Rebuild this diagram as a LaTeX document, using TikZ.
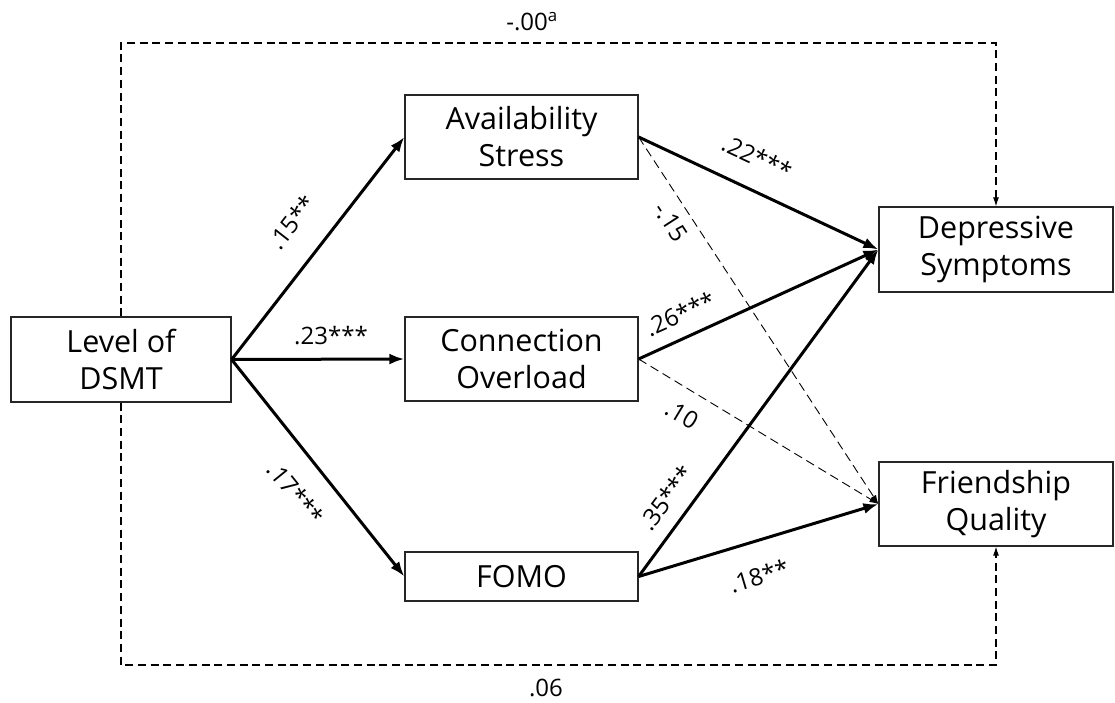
\documentclass[tikz,border=0pt]{standalone}
\usepackage{fontspec}
\setmainfont{Open Sans}
\usetikzlibrary{arrows.meta}
\begin{document}
\begin{tikzpicture}[x=1pt,y=-1pt,
  box/.style={draw=black!85,line width=1.2pt,fill=white,align=center,inner sep=0pt,
    font=\fontsize{30.5}{37}\selectfont},
  strong/.style={line width=3pt,-{Latex[length=15pt,width=11pt]}},
  weak/.style={line width=0.9pt,dash pattern=on 9pt off 5pt,-{Latex[length=9pt,width=6pt]}},
  direct/.style={line width=1.1pt,dash pattern=on 8pt off 4.7pt,-{Latex[length=9pt,width=6pt]}},
  coef/.style={font=\fontsize{24}{28}\selectfont,inner sep=0pt}]
\useasboundingbox (0,0) rectangle (1115,702);

% variables
\node[box,minimum width=220pt,minimum height=85pt] (lvl) at (121,359.5) {Level of\\DSMT};
\node[box,minimum width=233pt,minimum height=84pt] (avail) at (521.5,137) {Availability\\Stress};
\node[box,minimum width=233pt,minimum height=84pt] (conn) at (521.5,359) {Connection\\Overload};
\node[box,minimum width=233pt,minimum height=49pt] (fomo) at (521.5,576.5) {FOMO};
\node[box,minimum width=234pt,minimum height=85pt] (dep) at (996,249.5) {Depressive\\Symptoms};
\node[box,minimum width=234pt,minimum height=84pt] (fq) at (996,504) {Friendship\\Quality};

% direct effects around the mediators
\coordinate (topy) at (0,43);
\coordinate (boty) at (0,665);
\draw[direct] (lvl.north) -- (lvl.north |- topy) -| (dep.north);
\draw[direct] (lvl.south) -- (lvl.south |- boty) -| (fq.south);

% non-significant paths
\draw[weak] (avail.east) -- (fq.west);
\draw[weak] (conn.east) -- (fq.west);

% significant paths
\draw[strong] (lvl.east) -- (avail.west);
\draw[strong] (lvl.east) -- (conn.west);
\draw[strong] (lvl.east) -- (fomo.west);
\draw[strong] (avail.east) -- (dep.west);
\draw[strong] (conn.east) -- (dep.west);
\draw[strong] (fomo.east) -- (dep.west);
\draw[strong] (fomo.east) -- (fq.west);

% coefficients
\node[coef] (c0) at (532,22) {-.00\textsuperscript{a}};
\node[coef] (c1) at (546,688) {.06};
\node[coef,rotate=52] (c2) at (292,222) {.15**};
\node[coef] (c3) at (331,336) {.23***};
\node[coef,rotate=-51] (c4) at (296,493) {.17***};
\node[coef,rotate=-25] (c5) at (757,157) {.22***};
\node[coef,rotate=-57] (c6) at (671,222) {-.15};
\node[coef,rotate=24] (c7) at (680,314) {.26***};
\node[coef,rotate=-31] (c8) at (682,415) {.10};
\node[coef,rotate=53.5] (c9) at (666,498) {.35***};
\node[coef,rotate=16.6] (c10) at (759,576) {.18**};
\end{tikzpicture}
\end{document}
